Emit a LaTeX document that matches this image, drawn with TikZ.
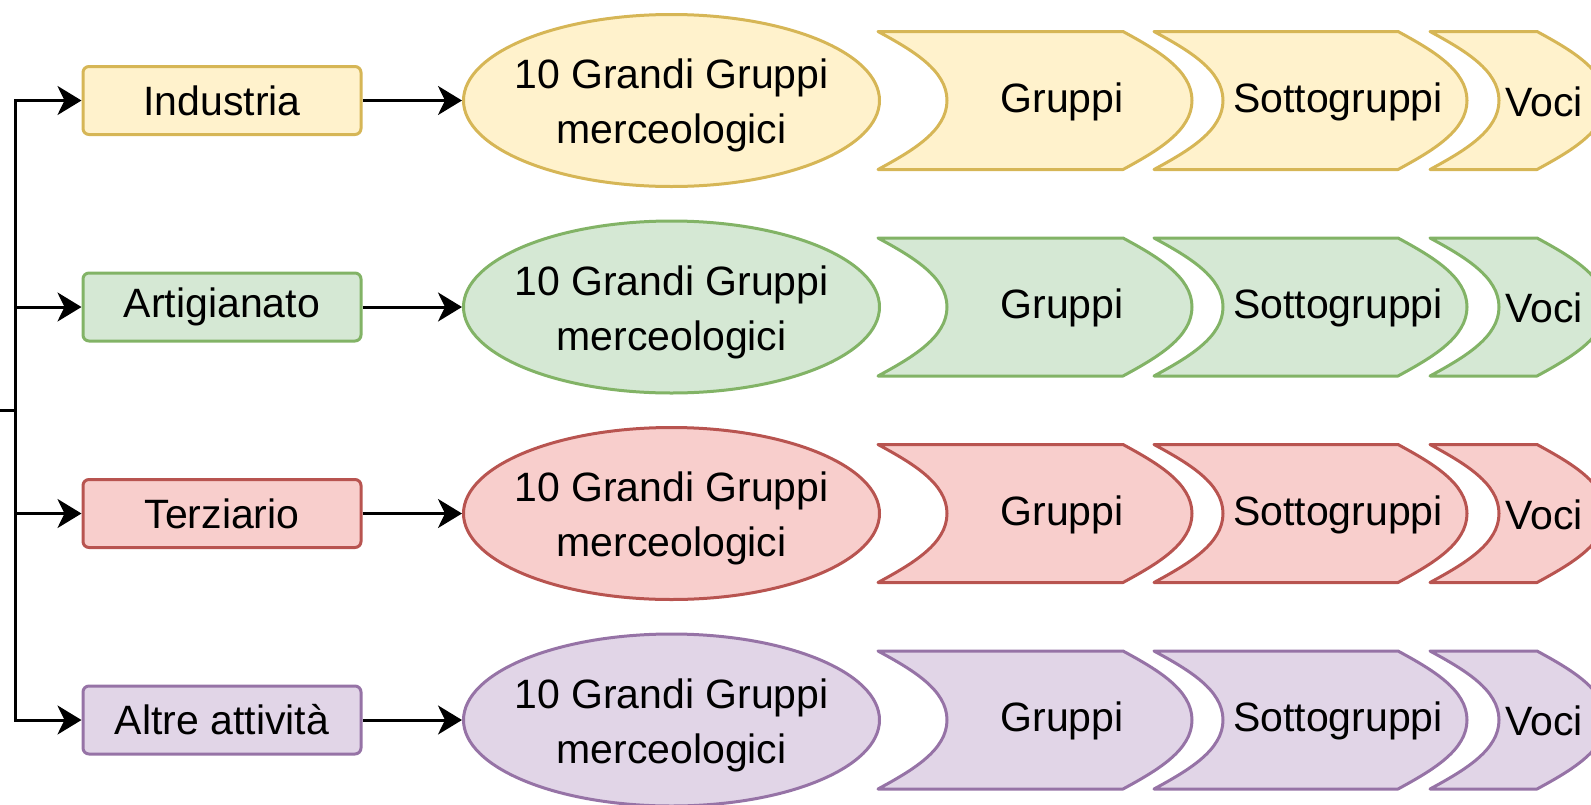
\documentclass[tikz,border=0pt]{standalone}
\usepackage{fontspec}
\setmainfont{Liberation Sans}
\usetikzlibrary{shapes.geometric,arrows.meta}

\definecolor{yelF}{HTML}{FFF2CC}\definecolor{yelS}{HTML}{D6B656}
\definecolor{grnF}{HTML}{D5E8D4}\definecolor{grnS}{HTML}{82B366}
\definecolor{redF}{HTML}{F8CECC}\definecolor{redS}{HTML}{B85450}
\definecolor{purF}{HTML}{E1D5E7}\definecolor{purS}{HTML}{9673A6}

\tikzset{
  lbl/.style={font=\fontsize{41}{55}\selectfont, text=black},
  sector/.style={lbl, rectangle, rounded corners=6pt, line width=3pt,
    minimum width=278pt, minimum height=68pt, inner sep=0pt},
  groups/.style={ellipse, line width=3pt, minimum width=416pt,
    minimum height=172pt, inner sep=0pt},
  link/.style={line width=3pt, -{Stealth[length=24pt,width=29pt,inset=7pt]}},
  yel/.style={draw=yelS, fill=yelF},
  grn/.style={draw=grnS, fill=grnF},
  red/.style={draw=redS, fill=redF},
  pur/.style={draw=purS, fill=purF},
}

% chevron step: #1 left x, #2 centre y, #3 length of straight edges, #4 colour style
\newcommand\stepchevron[4]{%
  \begin{scope}[shift={(#1,#2)}]
    \path[#4, line width=3pt, line join=round]
      (0,-69) -- (#3,-69)
      .. controls (#3+35,-50) and (#3+69,-30) .. (#3+69,0)
      .. controls (#3+69,30) and (#3+35,50) .. (#3,69)
      -- (0,69)
      .. controls (35,50) and (69,30) .. (69,0)
      .. controls (69,-30) and (35,-50) .. (0,-69) -- cycle;
  \end{scope}}

% one row: #1 name, #2 centre y, #3 colour style, #4 sector label
\newcommand\sectorrow[4]{%
  \node[sector,#3] (#1) at (222,#2) {#4};
  \node[groups,#3] (#1g) at (671.5,#2) {};
  \node[lbl, align=center] (#1gt) at ([yshift=-5pt]#1g.center)
    {10 Grandi Gruppi\\merceologici};
  \draw[link] (#1) -- (#1g);
  \stepchevron{878}{#2}{245}{#3}
  \stepchevron{1154}{#2}{244}{#3}
  \stepchevron{1430}{#2}{107}{#3}
  \node[lbl] (#1a) at (1062,#2+1) {Gruppi};
  \node[lbl] (#1b) at (1338,#2+1) {Sottogruppi};
  \node[lbl] (#1c) at (1544,#2+1) {Voci};
}

\begin{document}
\begin{tikzpicture}[x=1pt,y=-1pt]
  \useasboundingbox (0,0) rectangle (1591,804);
  \clip (0,0) rectangle (1591,804);

  \sectorrow{ind}{100.5}{yel}{Industria}
  \sectorrow{art}{307}{grn}{Artigianato}
  \sectorrow{ter}{513.5}{red}{Terziario}
  \sectorrow{alt}{720}{pur}{Altre attività}

  % incoming trunk splitting to the four sectors
  \coordinate (src) at (-10,410.25);
  \coordinate (fork) at (15.5,410.25);
  \draw[line width=3pt] (src) -- (fork);
  \foreach \s in {ind,art,ter,alt}
    \draw[link] (fork) |- (\s.west);
\end{tikzpicture}
\end{document}
